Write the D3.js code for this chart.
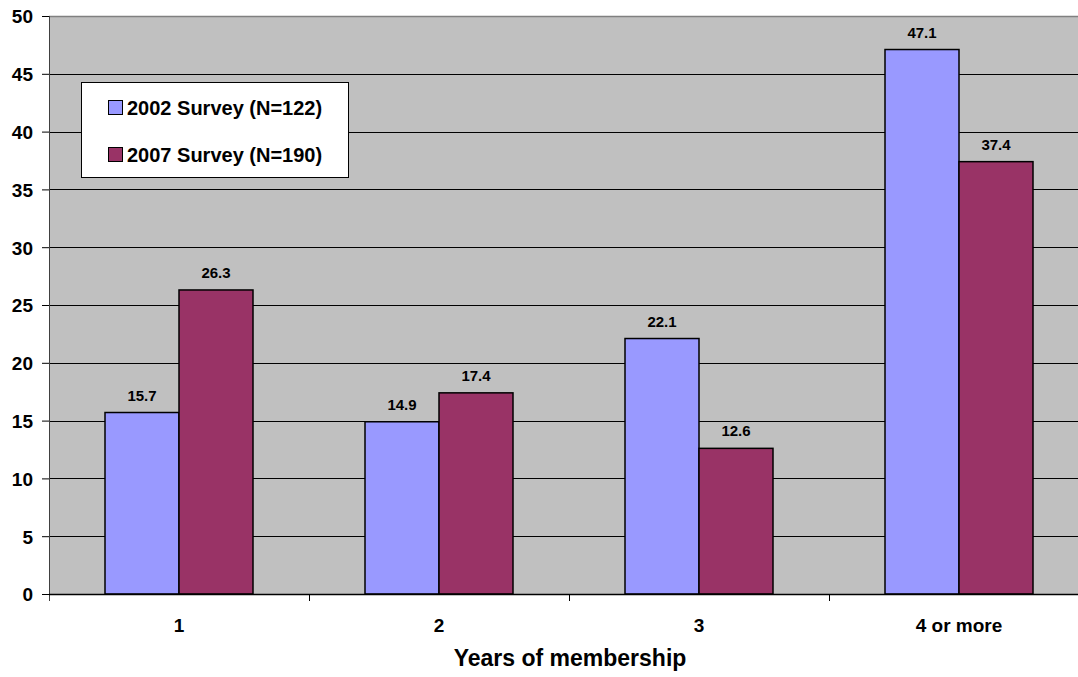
<!DOCTYPE html>
<html><head><meta charset="utf-8">
<script src="https://cdn.jsdelivr.net/npm/d3@7"></script>
<style>body{margin:0;background:#fff}svg{display:block;font-family:Arial,"Liberation Sans",sans-serif}</style>
</head><body>
<script>
const categories = ["1", "2", "3", "4 or more"];
const seriesNames = ["2002 Survey (N=122)", "2007 Survey (N=190)"];
const values2002 = [15.7, 14.9, 22.1, 47.1];
const values2007 = [26.3, 17.4, 12.6, 37.4];
const yTicks = [0, 5, 10, 15, 20, 25, 30, 35, 40, 45, 50];
const colors = ["#9999FF", "#993366"];
const xTitle = "Years of membership";

const W = 1078, H = 677;
const m = {left: 49, top: 16, right: 1089, bottom: 594};
const svg = d3.select("body").append("svg").attr("width", W).attr("height", H);

const x = d3.scaleBand().domain(categories).range([m.left, m.right]).paddingInner(0).paddingOuter(0);
const inner = d3.scaleBand().domain([0, 1]).range([56, 204]).paddingInner(0).paddingOuter(0);
const y = d3.scaleLinear().domain([0, 50]).range([m.bottom, m.top]);

svg.append("rect").attr("x", m.left).attr("y", m.top).attr("width", m.right - m.left).attr("height", m.bottom - m.top).attr("fill", "#C0C0C0");

// gridlines
svg.append("g").selectAll("line").data(yTicks.filter(d => d > 0 && d < 50)).join("line")
  .attr("x1", m.left).attr("x2", m.right).attr("y1", d => Math.round(y(d)) + 0.5).attr("y2", d => Math.round(y(d)) + 0.5)
  .attr("stroke", "#000").attr("stroke-width", 1);
svg.append("line").attr("x1", m.left).attr("x2", m.right).attr("y1", m.top + 0.5).attr("y2", m.top + 0.5).attr("stroke", "#808080").attr("stroke-width", 1.5);

const data = categories.map((c, i) => ({c, v: [values2002[i], values2007[i]]}));
const groups = svg.append("g").selectAll("g").data(data).join("g").attr("transform", d => `translate(${x(d.c)},0)`);
groups.selectAll("rect").data(d => d.v.map((v, k) => ({v, k}))).join("rect")
  .attr("x", d => inner(d.k)).attr("width", inner.bandwidth())
  .attr("y", d => y(d.v)).attr("height", d => y(0) - y(d.v))
  .attr("fill", d => colors[d.k]).attr("stroke", "#000").attr("stroke-width", 1.5);
groups.selectAll("text").data(d => d.v.map((v, k) => ({v, k}))).join("text")
  .attr("x", d => inner(d.k) + inner.bandwidth() / 2).attr("y", d => y(d.v) - 12)
  .attr("text-anchor", "middle").attr("font-size", 15).attr("font-weight", "bold").text(d => d.v.toFixed(1));

// y axis
const yAxis = d3.axisLeft(y).tickValues(yTicks).tickSize(7).tickPadding(9);
const gy = svg.append("g").attr("transform", `translate(${m.left},0)`).call(yAxis);
gy.select(".domain").attr("stroke", "#404040").attr("d", `M0.5,${m.top}V${m.bottom + 7}`);
gy.selectAll(".tick line").attr("stroke", "#000");
gy.selectAll("text").attr("font-size", 19).attr("font-weight", "bold").attr("fill", "#000")
  .attr("font-family", "Arial, Liberation Sans, sans-serif").attr("dy", "0.36em");

// x axis
const gx = svg.append("g").attr("transform", `translate(0,${m.bottom})`);
gx.append("line").attr("x1", m.left).attr("x2", m.right).attr("y1", 0.5).attr("y2", 0.5).attr("stroke", "#000").attr("stroke-width", 1.5);
gx.selectAll("line.tk").data(categories.slice(1)).join("line").attr("class", "tk")
  .attr("x1", d => x(d) + 0.5).attr("x2", d => x(d) + 0.5).attr("y1", 0).attr("y2", 7).attr("stroke", "#000");
gx.selectAll("text").data(categories).join("text")
  .attr("x", d => x(d) + x.bandwidth() / 2).attr("y", 38).attr("text-anchor", "middle")
  .attr("font-size", 19).attr("font-weight", "bold").text(d => d);

svg.append("text").attr("x", 570).attr("y", 666).attr("text-anchor", "middle")
  .attr("font-size", 23).attr("font-weight", "bold").text(xTitle);

// legend
const lg = svg.append("g");
lg.append("rect").attr("x", 81.5).attr("y", 82.5).attr("width", 267).attr("height", 95).attr("fill", "#fff").attr("stroke", "#000").attr("stroke-width", 1);
seriesNames.forEach((s, i) => {
  const top = 100 + i * 47;
  lg.append("rect").attr("x", 108.5).attr("y", top + 0.5).attr("width", 14).attr("height", 14).attr("fill", colors[i]).attr("stroke", "#000").attr("stroke-width", 1);
  lg.append("text").attr("x", 127).attr("y", top + 15).attr("font-size", 20).attr("font-weight", "bold").text(s);
});
</script>
</body></html>
